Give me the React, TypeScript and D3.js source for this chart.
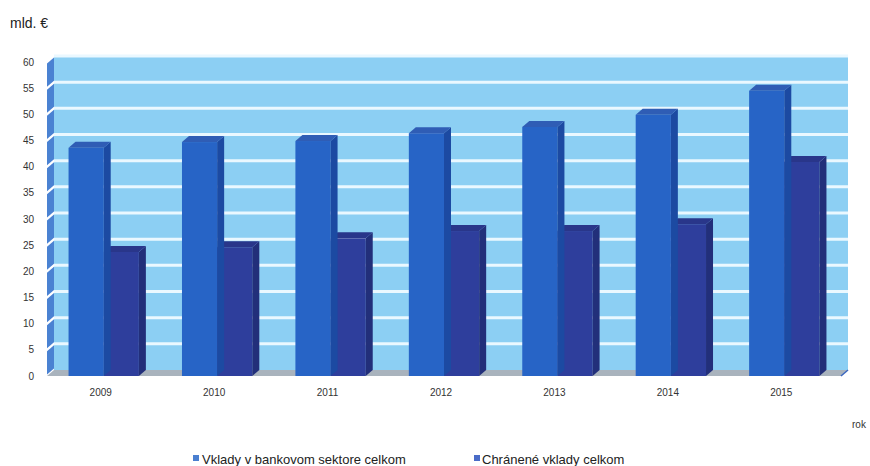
import React from "react";
import * as d3 from "d3";

const years = ["2009", "2010", "2011", "2012", "2013", "2014", "2015"];
const totalDeposits = [43.6, 44.7, 44.9, 46.4, 47.6, 49.9, 54.5];
const protectedDeposits = [23.7, 24.6, 26.3, 27.7, 27.7, 29.0, 40.9];
const yTicks = [0, 5, 10, 15, 20, 25, 30, 35, 40, 45, 50, 55, 60];
const seriesNames = ["Vklady v bankovom sektore celkom", "Chránené vklady celkom"];
const unitLabel = "mld. €";
const xAxisLabel = "rok";

const W = 870;
const H = 466;
const DX = 7;
const DY = -6;
const FONT = "'Liberation Sans', Arial, sans-serif";

export default function App() {
  const y = d3.scaleLinear().domain([0, 60]).range([376, 62]);
  const x0 = d3.scaleBand<string>().domain(years).range([47, 841]).paddingInner(0.38).paddingOuter(0.19);
  const x1 = d3.scaleBand<string>().domain(["a", "b"]).range([0, x0.bandwidth()]);
  const left = 47;
  const right = 841;
  const bw = x1.bandwidth();

  const series = [
    { key: "a", values: totalDeposits, front: "#2764c6", side: "#1c4aa2", top: "#2f5db5" },
    { key: "b", values: protectedDeposits, front: "#2e3e9c", side: "#222f7a", top: "#29368a" },
  ];

  const bar = (xs: number, v: number, s: any, i: number) => {
    const yt = y(v);
    const yb = y(0);
    return (
      <g key={s.key + i}>
        <rect x={xs} y={yt} width={bw} height={yb - yt} fill={s.front} />
        <polygon
          points={`${xs + bw},${yt} ${xs + bw + DX},${yt + DY} ${xs + bw + DX},${yb + DY} ${xs + bw},${yb}`}
          fill={s.side}
        />
        <polygon
          points={`${xs},${yt} ${xs + DX},${yt + DY} ${xs + bw + DX},${yt + DY} ${xs + bw},${yt}`}
          fill={s.top}
        />
      </g>
    );
  };

  return (
    <svg width={W} height={H} style={{ position: "absolute", left: 0, top: 0, background: "#fff" }}>
      <text x={10} y={28} fontFamily={FONT} fontSize={14} fill="#222">{unitLabel}</text>
      {/* back wall */}
      <rect x={left + DX} y={y(60) + DY} width={right - left} height={y(0) - y(60)} fill="#8ccff3" />
      {yTicks.slice(1).map((t) => (
        <line key={"g" + t} x1={left + DX} x2={right + DX} y1={y(t) + DY} y2={y(t) + DY} stroke="#eaf8ff" strokeWidth={3} />
      ))}
      {/* left wall segments */}
      {yTicks.slice(0, -1).map((t, i) => {
        const ya = y(yTicks[i + 1]) + 1.5;
        const yb = y(t) - 1.5;
        return (
          <polygon
            key={"w" + t}
            points={`${left},${ya} ${left + DX},${ya + DY} ${left + DX},${yb + DY} ${left},${yb}`}
            fill="#4a82d2"
          />
        );
      })}
      {/* floor */}
      <polygon
        points={`${left},${y(0)} ${right},${y(0)} ${right + DX},${y(0) + DY} ${left + DX},${y(0) + DY}`}
        fill="#a9b3bd"
      />
      <line x1={right} y1={y(0)} x2={right + DX} y2={y(0) + DY} stroke="#3a66c0" strokeWidth={1.5} />
      {/* bars */}
      {years.map((yr, i) =>
        [series[1], series[0]].map((s) => bar((x0(yr) as number) + (x1(s.key) as number), s.values[i], s, i))
      )}
      {/* y tick labels */}
      {yTicks.map((t) => (
        <text key={"t" + t} x={34} y={y(t) + 3.5} textAnchor="end" fontFamily={FONT} fontSize={10} fill="#333">
          {t}
        </text>
      ))}
      {/* x labels */}
      {years.map((yr) => (
        <text key={"x" + yr} x={(x0(yr) as number) + x0.bandwidth() / 2 - 3} y={396} textAnchor="middle" fontFamily={FONT} fontSize={10} fill="#333">
          {yr}
        </text>
      ))}
      <text x={852} y={428} fontFamily={FONT} fontSize={10} fill="#333">{xAxisLabel}</text>
      {/* legend */}
      <rect x={193} y={455} width={6} height={6} fill="#4a7fd0" />
      <text x={202} y={464} fontFamily={FONT} fontSize={13} fill="#222">{seriesNames[0]}</text>
      <rect x={474} y={455} width={6} height={6} fill="#4a6cc8" />
      <text x={482} y={464} fontFamily={FONT} fontSize={13} fill="#222">{seriesNames[1]}</text>
    </svg>
  );
}
